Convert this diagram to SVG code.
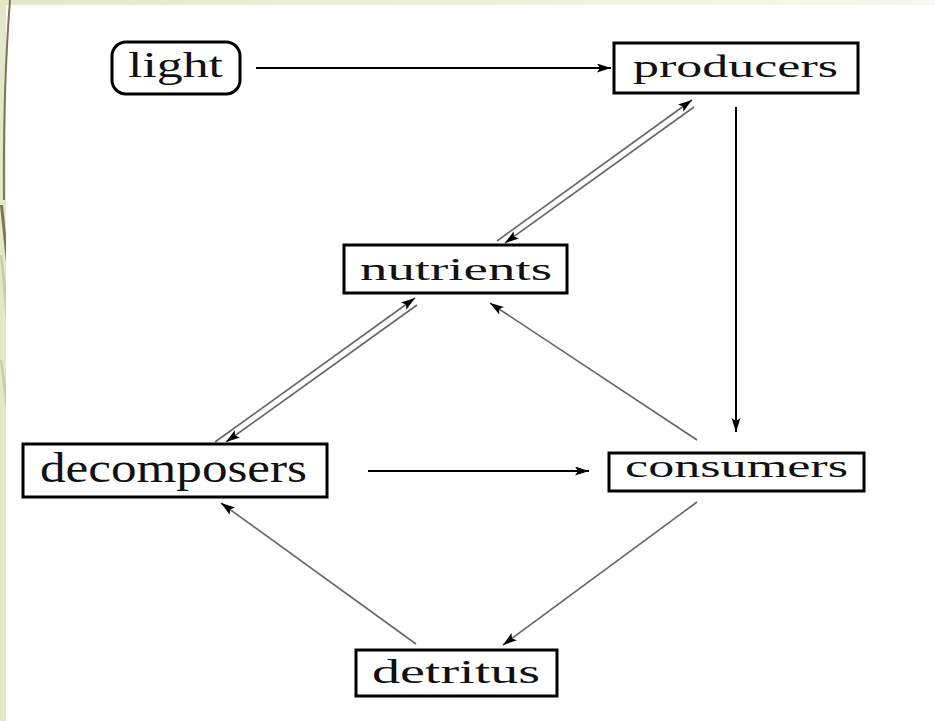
<svg xmlns="http://www.w3.org/2000/svg" width="935" height="721" viewBox="0 0 935 721">
<defs>
<linearGradient id="topg" x1="0" y1="0" x2="1" y2="0">
<stop offset="0" stop-color="#e3e9c8"/>
<stop offset="1" stop-color="#f7f9ef"/>
</linearGradient>
<marker id="ah" markerUnits="userSpaceOnUse" markerWidth="16" markerHeight="10" refX="14" refY="4.5" orient="auto">
<path d="M0,0 L14,4.5 L0,9 L3,4.5 z" fill="#000"/>
</marker>
<style>
.box{fill:#fff;stroke:#000;stroke-width:3}
.lbl{font-family:"Liberation Serif","DejaVu Serif",serif;fill:#111;text-anchor:middle}
.st{stroke:#000;stroke-width:2;fill:none}
.dg{stroke:#666;stroke-width:1.6;fill:none}
</style>
</defs>
<rect x="0" y="0" width="935" height="721" fill="#fff"/>
<rect x="0" y="0" width="935" height="5" fill="url(#topg)"/>
<rect x="0" y="0" width="6" height="721" fill="#e2e8c8"/>
<g id="decor">
<path d="M10,0 Q3,90 4,200" stroke="#7d7358" stroke-width="2" fill="none"/>
<path d="M0,205 L3,205 L6,235 L6,262 Z" fill="#7d7358"/>
<path d="M0,255 L2,255 L6,285 L6,320 Z" fill="#c9cca6"/>
<path d="M0,360 L2,360 L6,385 L6,410 Z" fill="#c9cca6"/>
</g>
<g id="connectors">
<line class="st" x1="256" y1="68" x2="611" y2="68" marker-end="url(#ah)"/>
<line class="st" x1="736" y1="107" x2="736" y2="432" marker-end="url(#ah)"/>
<line class="dg" x1="497" y1="241" x2="692" y2="100" marker-end="url(#ah)"/>
<line class="dg" x1="694" y1="107" x2="505" y2="243" marker-end="url(#ah)"/>
<line class="dg" x1="215" y1="442" x2="415" y2="298" marker-end="url(#ah)"/>
<line class="dg" x1="417" y1="305" x2="226" y2="442" marker-end="url(#ah)"/>
<line class="dg" x1="697" y1="440" x2="490" y2="303" marker-end="url(#ah)"/>
<line class="dg" x1="697" y1="502" x2="503" y2="645" marker-end="url(#ah)"/>
<line class="dg" x1="416" y1="644" x2="221" y2="503" marker-end="url(#ah)"/>
<line class="st" x1="368" y1="471" x2="589" y2="471" marker-end="url(#ah)"/>
</g>
<g id="light">
<rect class="box" x="112" y="42" width="128" height="52" rx="14" stroke-width="2.5"/>
<text class="lbl" x="175.5" y="77" font-size="36" textLength="95" lengthAdjust="spacingAndGlyphs">light</text>
</g>
<g id="producers">
<rect class="box" x="614" y="43" width="244" height="50"/>
<text class="lbl" x="735.5" y="77" font-size="31" textLength="205" lengthAdjust="spacingAndGlyphs">producers</text>
</g>
<g id="nutrients">
<rect class="box" x="344" y="245" width="223" height="48"/>
<text class="lbl" x="456" y="280" font-size="31" textLength="192" lengthAdjust="spacingAndGlyphs">nutrients</text>
</g>
<g id="decomposers">
<rect class="box" x="23" y="444" width="304" height="53"/>
<text class="lbl" x="173.5" y="482" font-size="42" textLength="267" lengthAdjust="spacingAndGlyphs">decomposers</text>
</g>
<g id="consumers">
<rect class="box" x="609" y="453" width="255" height="38"/>
<text class="lbl" x="736.5" y="477" font-size="32" textLength="223" lengthAdjust="spacingAndGlyphs">consumers</text>
</g>
<g id="detritus">
<rect class="box" x="356" y="650" width="201" height="46"/>
<text class="lbl" x="456" y="683" font-size="34" textLength="168" lengthAdjust="spacingAndGlyphs">detritus</text>
</g>
</svg>
